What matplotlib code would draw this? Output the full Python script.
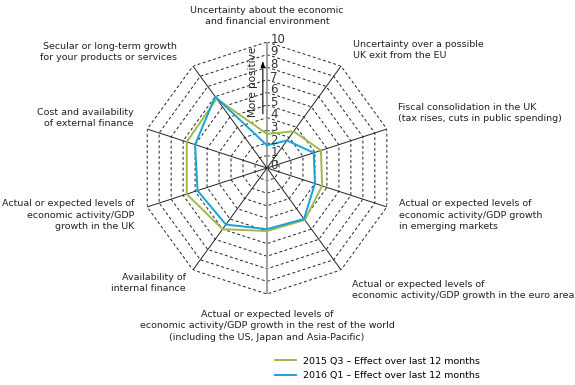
import numpy as np
import matplotlib
matplotlib.use("Agg")
import matplotlib.pyplot as plt
from matplotlib.transforms import ScaledTranslation

# categories clockwise from the top
categories = [
    "Uncertainty about the economic\nand financial environment",
    "Uncertainty over a possible\nUK exit from the EU",
    "Fiscal consolidation in the UK\n(tax rises, cuts in public spending)",
    "Actual or expected levels of\neconomic activity/GDP growth\nin emerging markets",
    "Actual or expected levels of\neconomic activity/GDP growth in the euro area",
    "Actual or expected levels of\neconomic activity/GDP growth in the rest of the world\n(including the US, Japan and Asia-Pacific)",
    "Availability of\ninternal finance",
    "Actual or expected levels of\neconomic activity/GDP\ngrowth in the UK",
    "Cost and availability\nof external finance",
    "Secular or long-term growth\nfor your products or services",
]
q3_2015 = [2.7, 3.6, 4.5, 4.6, 5.1, 5.0, 6.0, 6.7, 6.7, 6.8]
q1_2016 = [1.8, 2.7, 3.9, 4.0, 5.0, 4.85, 5.55, 5.8, 6.0, 7.0]
series_names = ["2015 Q3 \u2013 Effect over last 12 months",
                "2016 Q1 \u2013 Effect over last 12 months"]
ticks = list(range(11))

green = "#9dbb4c"
blue = "#1ba1d8"

plt.rcParams["font.family"] = "DejaVu Sans"
fig = plt.figure(figsize=(5.75, 3.85), dpi=100)
ax = fig.add_axes([141 / 575, (385 - 294) / 385, 252 / 575, 252 / 385], polar=True)
ax.set_theta_offset(np.pi / 2)
ax.set_theta_direction(-1)
ax.set_ylim(0, 10)
ax.grid(False)
ax.set_xticks([])
ax.set_yticks([])
ax.spines["polar"].set_visible(False)
ax.patch.set_visible(False)

n = len(categories)
theta = np.linspace(0, 2 * np.pi, n, endpoint=False)
closed = np.append(theta, theta[0])

# dashed decagon rings
for r in ticks[1:]:
    ax.plot(closed, [r] * (n + 1), color="#222222", lw=0.7, ls=(0, (3, 2.5)), zorder=1)

# spokes
for i, t in enumerate(theta):
    if i in (0, 5):
        ax.plot([t, t], [0, 10], color="#9a9a9a", lw=1.3, zorder=2)
    else:
        ax.plot([t, t], [0, 10], color="#222222", lw=0.7, zorder=2)

ax.plot(closed, q3_2015 + q3_2015[:1], color=green, lw=1.4, zorder=3, label=series_names[0])
ax.plot(closed, q1_2016 + q1_2016[:1], color=blue, lw=1.4, zorder=4, label=series_names[1])

# scale numbers
for r in ticks:
    ax.annotate(str(r), (0, r), xytext=(2.5, 2), textcoords="offset points",
                ha="left", va="center", fontsize=8.5, color="#333333", zorder=5)

# more positive arrow, a little left of the axis
shift_arrow = ax.transData + ScaledTranslation(-3 / 72, 0, fig.dpi_scale_trans)
ax.annotate("", xy=(0, 8.5), xytext=(0, 4.3), xycoords=shift_arrow, textcoords=shift_arrow,
            arrowprops=dict(arrowstyle="-|>,head_length=0.35,head_width=0.12",
                            color="black", lw=0.8, shrinkA=0, shrinkB=0),
            zorder=5)
shift_text = ax.transData + ScaledTranslation(-10 / 72, 0, fig.dpi_scale_trans)
ax.text(0, 6.8, "More positive", rotation=90, ha="center", va="center",
        fontsize=7.5, transform=shift_text, zorder=5, color="#222222")

# category labels (figure pixel positions)
label_pos = [
    (267, 16, "center"),
    (353, 50, "left"),
    (398, 113, "left"),
    (399, 215, "left"),
    (352, 290, "left"),
    (267, 326, "center"),
    (186, 283, "right"),
    (134, 215, "right"),
    (134, 118, "right"),
    (177, 52, "right"),
]
for text, (x, y, ha) in zip(categories, label_pos):
    fig.text(x / 575, 1 - y / 385, text, ha=ha, va="center", fontsize=6.8,
             multialignment=ha, linespacing=1.4, color="#222222")

leg = fig.legend(loc="upper left", bbox_to_anchor=(270 / 575, 1 - 352 / 385),
                 frameon=False, fontsize=6.8, handlelength=2.2, handletextpad=0.8,
                 labelspacing=0.55, borderpad=0)

fig.savefig("out.png", dpi=100)
